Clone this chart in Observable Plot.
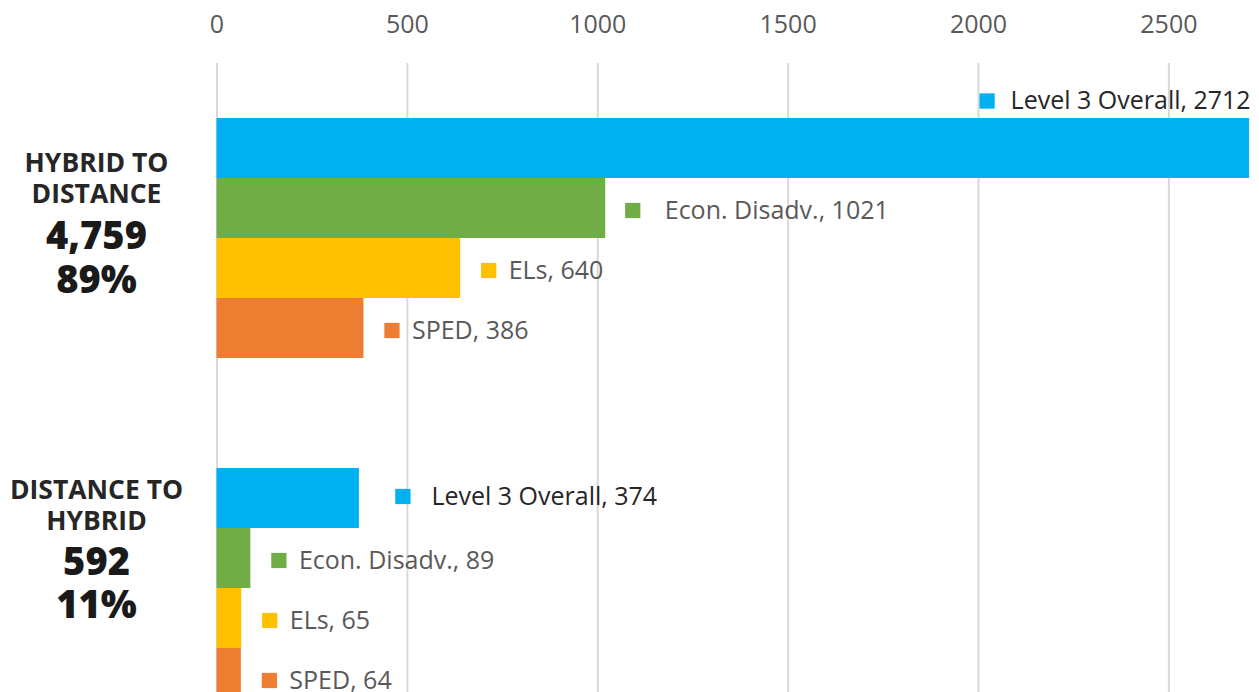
<!DOCTYPE html>
<html>
<head>
<meta charset="utf-8">
<script src="https://cdn.jsdelivr.net/npm/d3@7"></script>
<script src="https://cdn.jsdelivr.net/npm/@observablehq/plot@0.6"></script>
<style>
  html, body { margin: 0; padding: 0; background: #fff; overflow: hidden; }
  #chart svg { display: block; }
</style>
</head>
<body>
<div id="chart"></div>
<script>
// ---- data ----
const categories = ["Level 3 Overall", "Econ. Disadv.", "ELs", "SPED"];
const categoryColors = ["#00B0F0", "#70AD47", "#FFC000", "#ED7D31"];
const groupNames = ["HYBRID TO\nDISTANCE", "DISTANCE TO\nHYBRID"];
const groupTotals = ["4,759", "592"];
const groupShares = ["89%", "11%"];
const hybridToDistance = [2712, 1021, 640, 386];
const distanceToHybrid = [374, 89, 65, 64];
const xTicks = [0, 500, 1000, 1500, 2000, 2500];

// ---- layout (not data) ----
const ROW_PX = 60;
const GROUP_STEP = 350 / ROW_PX;   // group 2 starts 350px below group 1
const labelNudge = {
  "0-0": {sq: -262.5, tx: -239, dy: -47.5},
  "0-1": {sq: 27, tx: 59, dy: 2},
  "1-0": {sq: 43.5, tx: 72, dy: -2}
};
const defaultNudge = {sq: 28, tx: 48, dy: 2};
const groupLabelLayout = [
  {titleDy: -60.5, totalDy: -2, shareDy: 42},
  {titleDy: -84, totalDy: -26, shareDy: 17}
];

const rows = [hybridToDistance, distanceToHybrid].flatMap((vals, gi) =>
  vals.map((v, ci) => ({gi, ci, category: categories[ci], value: v, label: `${categories[ci]}, ${v}`}))
);
const slot = d => d.gi * GROUP_STEP + d.ci;

const labelMarks = rows.flatMap(d => {
  const n = labelNudge[`${d.gi}-${d.ci}`] || defaultNudge;
  return [
    Plot.dot([d], {x: "value", y: r => slot(r) + 0.5, dx: n.sq, dy: n.dy,
      symbol: "square", r: 8.6, fill: "category", stroke: null}),
    Plot.text([d], {x: "value", y: r => slot(r) + 0.5, dx: n.tx, dy: n.dy,
      text: "label", textAnchor: "start", fontSize: 25,
      fill: d.ci === 0 ? "#262626" : "#595959"})
  ];
});

const groups = groupNames.map((name, gi) => ({gi, name, total: groupTotals[gi], share: groupShares[gi]}));
const groupMarks = groups.flatMap(g => {
  const L = groupLabelLayout[g.gi];
  const common = {y: r => r.gi * GROUP_STEP + 2, frameAnchor: "left", dx: -120.5, textAnchor: "middle"};
  return [
    Plot.text([g], {...common, dy: L.titleDy, text: "name",
      fontSize: 26.5, fontWeight: 700, lineHeight: 1.17, fill: "#262626"}),
    Plot.text([g], {...common, dy: L.totalDy, text: "total",
      fontSize: 38, fontWeight: 800, fill: "#1a1a1a"}),
    Plot.text([g], {...common, dy: L.shareDy, text: "share",
      fontSize: 38, fontWeight: 800, fill: "#1a1a1a"})
  ];
});

const chart = Plot.plot({
  width: 1259,
  height: 692,
  marginLeft: 216.5,
  marginRight: 0,
  marginTop: 63,
  marginBottom: 0,
  style: {fontFamily: "'Open Sans', sans-serif", overflow: "hidden", background: "#fff"},
  x: {domain: [0, 2738], label: null},
  y: {type: "linear", domain: [0, 1], range: [118, 118 + ROW_PX], axis: null},
  color: {domain: categories, range: categoryColors},
  marks: [
    Plot.gridX(xTicks, {stroke: "#d9d9d9", strokeOpacity: 1, strokeWidth: 2}),
    Plot.axisX(xTicks, {anchor: "top", tickSize: 0, tickPadding: 31, fontSize: 25,
      fill: "#595959", label: null, tickFormat: d => String(d)}),
    Plot.rect(rows, {x1: 0, x2: "value", y1: d => slot(d), y2: d => slot(d) + 1, fill: "category"}),
    ...labelMarks,
    ...groupMarks
  ]
});
document.getElementById("chart").append(chart);
</script>
</body>
</html>
